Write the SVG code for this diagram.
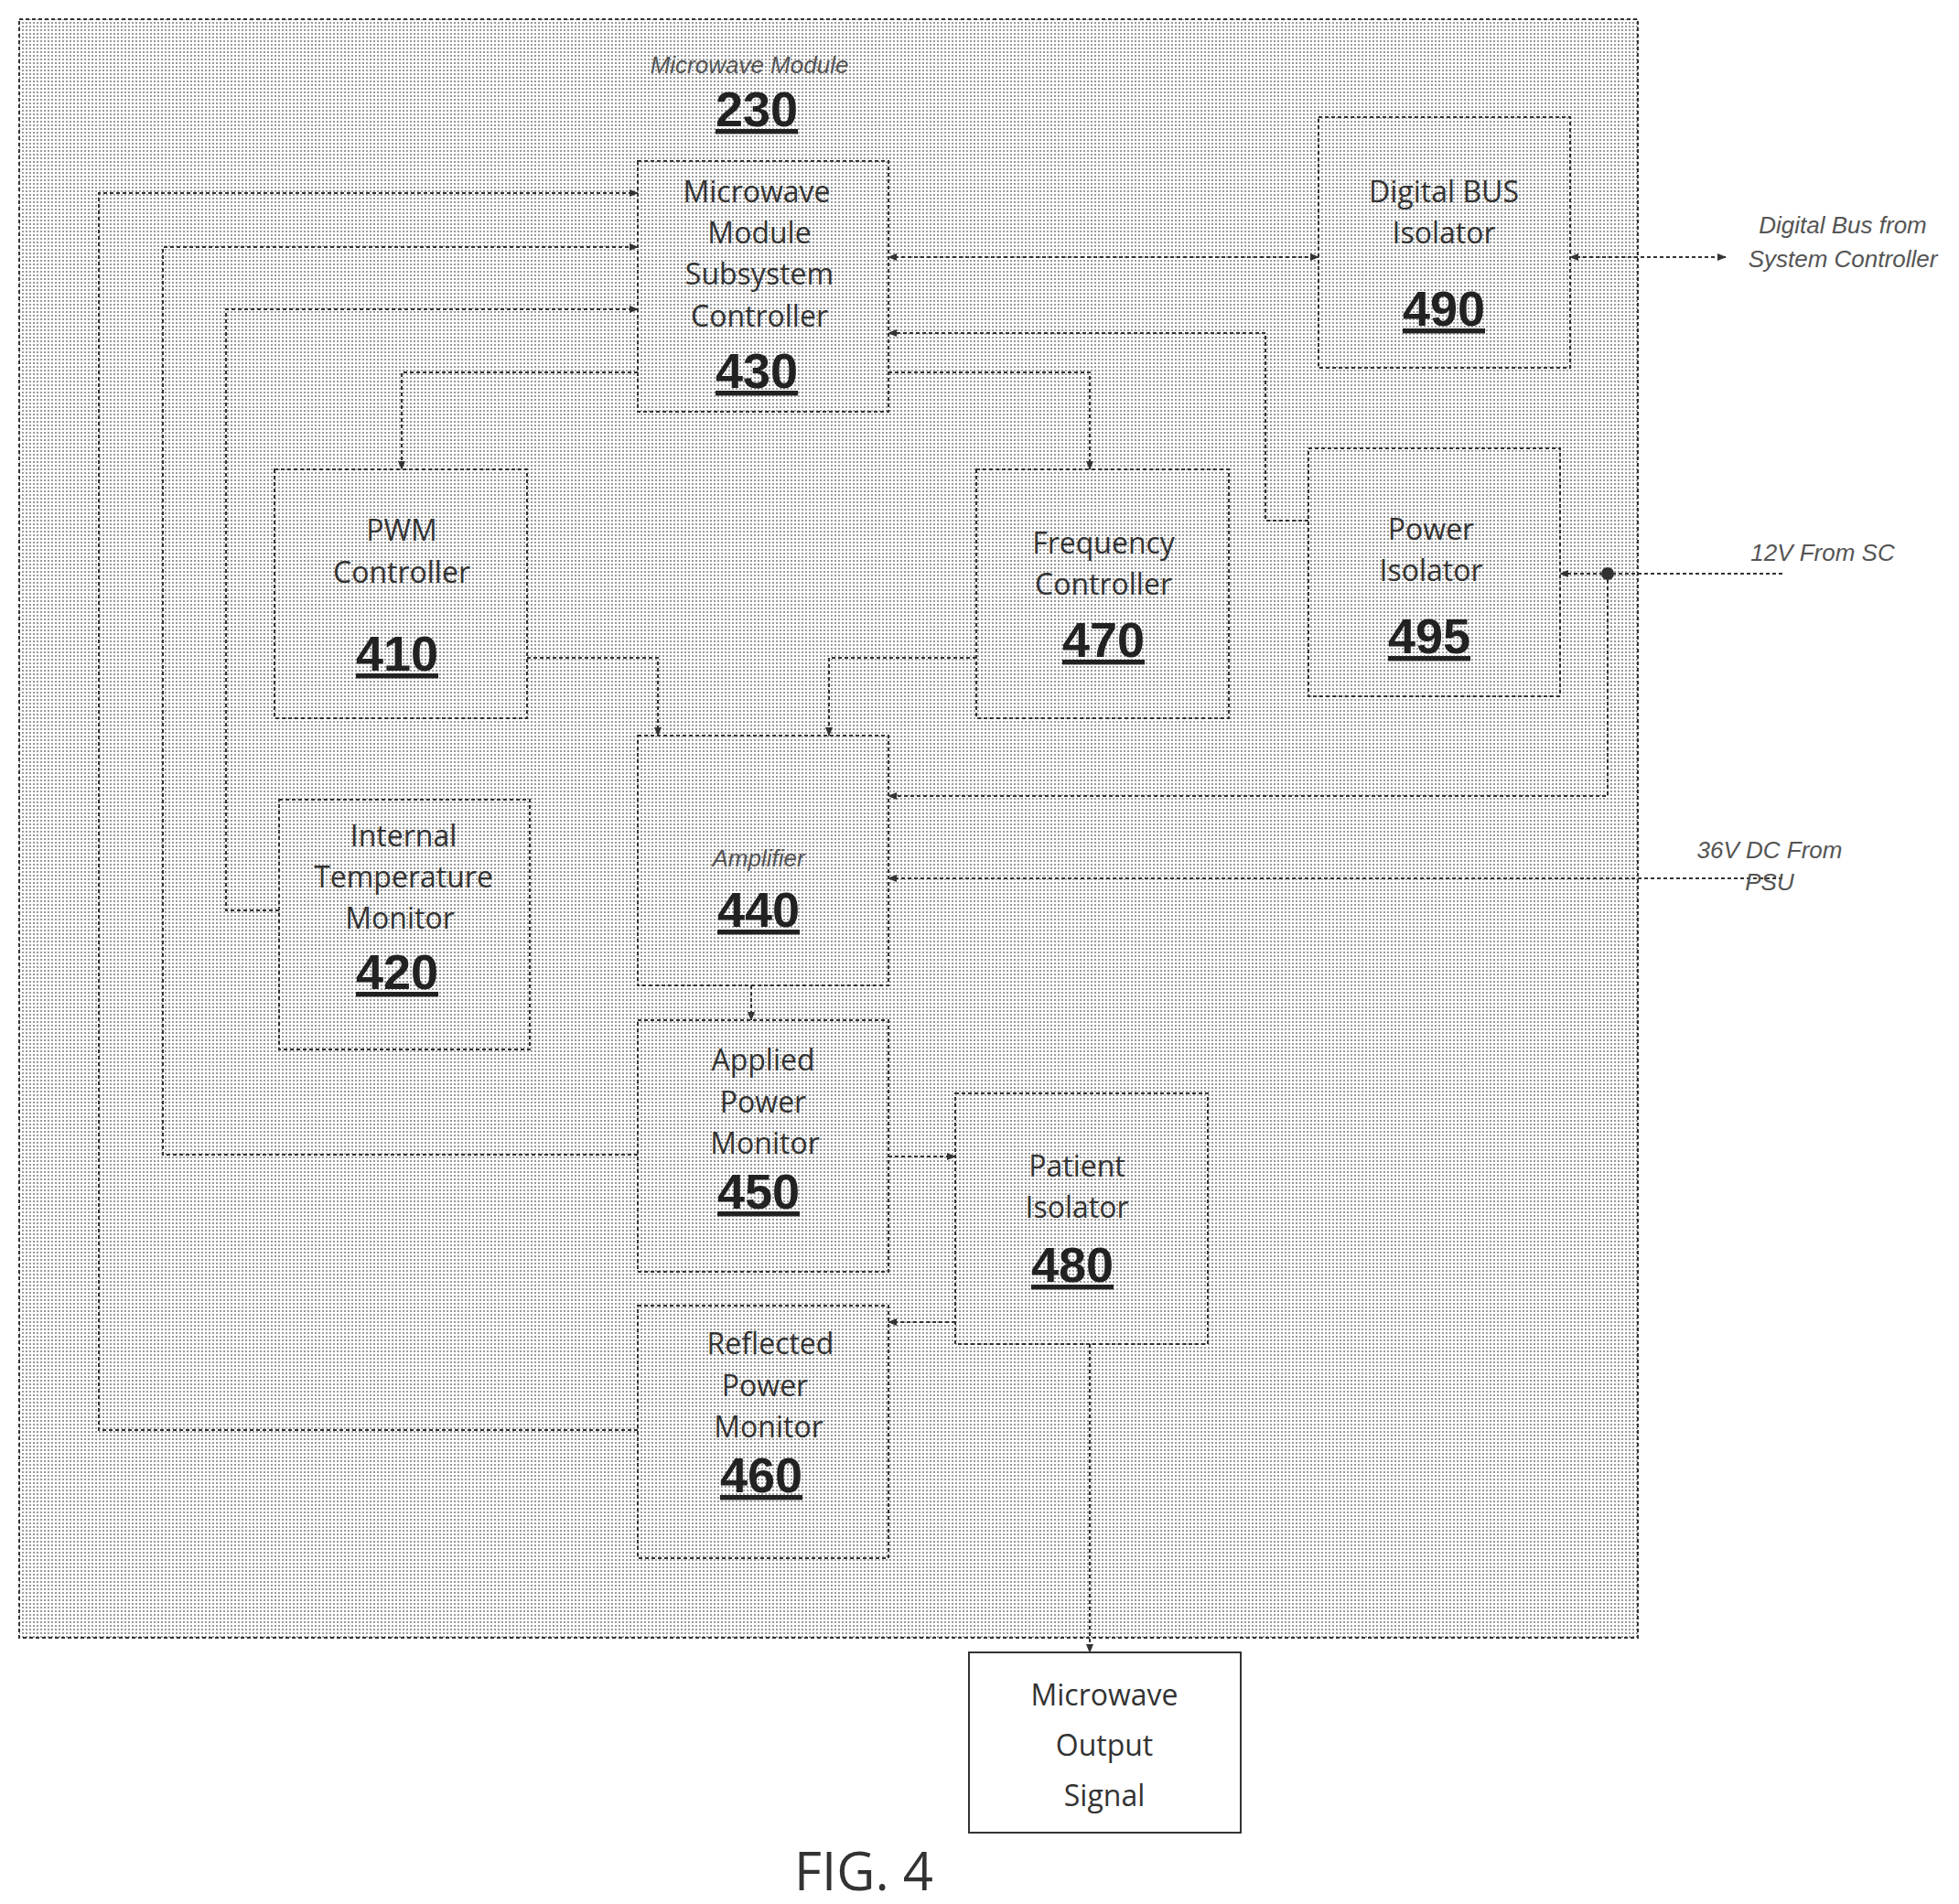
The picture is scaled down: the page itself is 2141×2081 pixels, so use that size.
<svg xmlns="http://www.w3.org/2000/svg" width="2141" height="2081" viewBox="0 0 2141 2081">
<defs>
<pattern id="dots" width="4" height="4" patternUnits="userSpaceOnUse"><rect width="4" height="4" fill="#fff"/><rect width="2" height="2" fill="#9a9a9a"/></pattern>
<marker id="ah" viewBox="0 0 10 10" refX="9" refY="5" markerWidth="10" markerHeight="10" markerUnits="userSpaceOnUse" orient="auto-start-reverse"><path d="M0,1 L10,5 L0,9 z" fill="#333"/></marker>
</defs>
<style>
.box{fill:url(#dots);stroke:#333;stroke-width:2;stroke-dasharray:4 3}
.ln{fill:none;stroke:#333;stroke-width:2;stroke-dasharray:4 3}
.t{font-family:"Open Sans","Liberation Sans",sans-serif;font-size:32px;fill:#333;text-anchor:middle}
.n{font-family:"Liberation Sans",sans-serif;font-size:54px;font-weight:bold;fill:#222;text-anchor:middle;text-decoration:underline}
.s{font-family:"Liberation Sans",sans-serif;font-size:26px;fill:#555;text-anchor:middle;font-style:italic}
</style>
<rect width="2141" height="2081" fill="#fff"/>
<rect x="21" y="21" width="1769" height="1769" class="box"/>
<text class="s" x="819" y="80">Microwave Module</text>
<text class="n" x="827" y="138">230</text>
<g id="connectors">
<path class="ln" d="M697,1563 H108 V211 H697" marker-end="url(#ah)"/>
<path class="ln" d="M697,1262 H178 V270 H697" marker-end="url(#ah)"/>
<path class="ln" d="M305,995 H247 V338 H697" marker-end="url(#ah)"/>
<path class="ln" d="M697,407 H439 V513" marker-end="url(#ah)"/>
<path class="ln" d="M971,407 H1191 V513" marker-end="url(#ah)"/>
<path class="ln" d="M971,281 H1441" marker-start="url(#ah)" marker-end="url(#ah)"/>
<path class="ln" d="M1430,569 H1383 V364 H971" marker-end="url(#ah)"/>
<path class="ln" d="M1716,281 H1886" marker-start="url(#ah)" marker-end="url(#ah)"/>
<path class="ln" d="M1948,627 H1705" marker-end="url(#ah)"/>
<path class="ln" d="M1757,627 V870 H971" marker-end="url(#ah)"/>
<circle cx="1757" cy="627" r="7" fill="#333"/>
<path class="ln" d="M1948,960 H971" marker-end="url(#ah)"/>
<path class="ln" d="M576,719 H719 V804" marker-end="url(#ah)"/>
<path class="ln" d="M1067,719 H906 V804" marker-end="url(#ah)"/>
<path class="ln" d="M821,1077 V1115" marker-end="url(#ah)"/>
<path class="ln" d="M971,1264 H1044" marker-end="url(#ah)"/>
<path class="ln" d="M1044,1445 H971" marker-end="url(#ah)"/>
<path class="ln" d="M1191,1469 V1806" marker-end="url(#ah)"/>
</g>
<text class="s" x="2014" y="255">Digital Bus from</text>
<text class="s" x="2014" y="292">System Controller</text>
<text class="s" x="1992" y="613">12V From SC</text>
<text class="s" x="1934" y="938">36V DC From</text>
<text class="s" x="1934" y="973">PSU</text>
<g id="n430"><rect x="697" y="176" width="274" height="274" class="box"/><text class="t" x="827" y="221">Microwave</text><text class="t" x="830" y="266">Module</text><text class="t" x="830" y="311">Subsystem</text><text class="t" x="830" y="357">Controller</text><text class="n" x="827" y="424">430</text></g>
<g id="n490"><rect x="1441" y="128" width="275" height="274" class="box"/><text class="t" x="1578" y="221">Digital BUS</text><text class="t" x="1578" y="266">Isolator</text><text class="n" x="1578" y="356">490</text></g>
<g id="n495"><rect x="1430" y="490" width="275" height="271" class="box"/><text class="t" x="1564" y="590">Power</text><text class="t" x="1564" y="635">Isolator</text><text class="n" x="1562" y="714">495</text></g>
<g id="n410"><rect x="300" y="513" width="276" height="272" class="box"/><text class="t" x="439" y="591">PWM</text><text class="t" x="439" y="637">Controller</text><text class="n" x="434" y="733">410</text></g>
<g id="n470"><rect x="1067" y="513" width="276" height="272" class="box"/><text class="t" x="1206" y="605">Frequency</text><text class="t" x="1206" y="650">Controller</text><text class="n" x="1206" y="718">470</text></g>
<g id="n420"><rect x="305" y="874" width="274" height="273" class="box"/><text class="t" x="441" y="925">Internal</text><text class="t" x="441" y="970">Temperature</text><text class="t" x="437" y="1015">Monitor</text><text class="n" x="434" y="1081">420</text></g>
<g id="n440"><rect x="697" y="804" width="274" height="273" class="box"/><text class="s" x="829" y="947">Amplifier</text><text class="n" x="829" y="1013">440</text></g>
<g id="n450"><rect x="697" y="1115" width="274" height="275" class="box"/><text class="t" x="834" y="1170">Applied</text><text class="t" x="834" y="1216">Power</text><text class="t" x="836" y="1261">Monitor</text><text class="n" x="829" y="1321">450</text></g>
<g id="n480"><rect x="1044" y="1195" width="276" height="274" class="box"/><text class="t" x="1177" y="1286">Patient</text><text class="t" x="1177" y="1331">Isolator</text><text class="n" x="1172" y="1401">480</text></g>
<g id="n460"><rect x="697" y="1427" width="274" height="276" class="box"/><text class="t" x="842" y="1480">Reflected</text><text class="t" x="836" y="1526">Power</text><text class="t" x="840" y="1571">Monitor</text><text class="n" x="832" y="1631">460</text></g>
<g id="out"><rect x="1059" y="1806" width="297" height="197" fill="#fff" stroke="#333" stroke-width="2"/><text class="t" x="1207" y="1864" font-size="38">Microwave</text><text class="t" x="1207" y="1919" font-size="38">Output</text><text class="t" x="1207" y="1974" font-size="38">Signal</text></g>
<text x="944" y="2066" font-family="Open Sans,Liberation Sans,sans-serif" font-size="58" fill="#333" text-anchor="middle">FIG. 4</text>
</svg>
